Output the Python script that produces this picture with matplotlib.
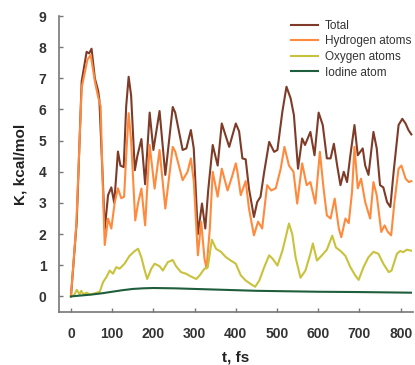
import numpy as np
import matplotlib
matplotlib.use("Agg")
import matplotlib.pyplot as plt

plt.rcParams['font.family'] = ['Liberation Sans', 'DejaVu Sans']

# kinetic energy traces (t in fs, K in kcal/mol)
t_total = [0, 14, 26, 38, 44, 50, 58, 66, 69, 78,
           82, 90, 98, 105, 110, 114, 120, 128, 134, 140,
           146, 155, 161, 171, 180, 191, 200, 215, 229, 247,
           253, 259, 271, 280, 291, 298, 308, 318, 326, 333,
           344, 356, 366, 384, 400, 408, 416, 424, 432, 444,
           452, 460, 469, 481, 493, 501, 513, 523, 533, 541,
           551, 561, 568, 581, 591, 601, 611, 621, 630, 638,
           646, 654, 662, 670, 678, 688, 696, 708, 714, 722,
           734, 742, 750, 758, 767, 775, 783, 795, 804, 812,
           819, 826]
k_total = [0, 2.4, 6.9, 7.85, 7.8, 7.95, 7.0, 6.6, 6.3, 3.5,
           2.15, 3.25, 3.5, 3.0, 3.9, 4.65, 4.2, 4.15, 6.1, 7.05,
           6.45, 4.05, 4.5, 5.05, 3.6, 5.9, 4.7, 5.95, 3.9, 6.08,
           5.9, 5.5, 4.7, 4.75, 5.34, 4.75, 2.0, 2.98, 2.18, 3.4,
           4.86, 4.2, 5.55, 4.8, 5.55, 5.3, 4.43, 4.4, 3.46, 2.55,
           3.03, 3.2, 4.0, 4.96, 4.64, 4.7, 5.93, 6.73, 6.36, 5.82,
           4.1, 5.07, 4.86, 5.28, 4.53, 5.9, 5.5, 4.43, 4.43, 4.9,
           4.2, 3.57, 4.0, 3.67, 4.53, 5.5, 4.53, 4.75, 4.2, 3.9,
           5.28, 4.75, 3.57, 3.5, 3.03, 2.87, 4.0, 5.5, 5.7, 5.55,
           5.34, 5.2]

t_hydrogen = [0, 13, 26, 40, 48, 58, 66, 72, 78, 82,
              90, 98, 106, 114, 122, 129, 134, 140, 146, 156,
              163, 171, 180, 191, 203, 215, 229, 247, 253, 271,
              283, 291, 298, 308, 316, 324, 329, 337, 344, 356,
              366, 380, 391, 400, 404, 412, 424, 432, 444, 454,
              464, 476, 486, 497, 509, 518, 529, 540, 549, 561,
              572, 581, 593, 604, 613, 621, 630, 640, 650, 656,
              666, 674, 682, 688, 696, 704, 714, 726, 734, 742,
              753, 761, 769, 777, 785, 795, 802, 812, 820, 826]
k_hydrogen = [0, 2.3, 6.7, 7.6, 7.75, 6.9, 6.4, 6.1, 3.2, 1.65,
              2.5, 2.18, 3.0, 3.47, 3.15, 3.2, 4.5, 5.88, 5.0, 2.44,
              3.0, 3.46, 2.28, 4.86, 3.46, 4.7, 2.82, 4.8, 4.65, 3.73,
              4.0, 4.43, 3.7, 1.32, 2.4, 1.21, 0.9, 2.18, 4.0, 3.2,
              4.1, 3.4, 3.85, 4.27, 4.0, 3.25, 3.7, 2.82, 1.96, 2.4,
              2.18, 3.57, 3.4, 3.47, 4.1, 4.8, 4.2, 4.0, 2.98, 4.27,
              3.57, 3.67, 2.98, 4.64, 3.46, 2.6, 2.5, 3.14, 2.18, 1.9,
              2.5, 2.35, 3.35, 4.8, 3.47, 3.78, 3.03, 2.5, 3.67, 3.25,
              2.07, 2.28, 2.07, 1.96, 3.03, 4.1, 4.2, 3.78, 3.67, 3.7]

t_oxygen = [0, 8, 14, 21, 25, 30, 38, 46, 58, 70,
            78, 86, 94, 102, 110, 118, 130, 142, 155, 163,
            171, 179, 185, 195, 203, 215, 223, 235, 247, 255,
            267, 279, 291, 304, 312, 324, 332, 342, 352, 364,
            376, 388, 400, 412, 424, 436, 447, 457, 469, 481,
            490, 501, 513, 521, 529, 537, 545, 557, 569, 581,
            587, 597, 609, 621, 634, 643, 654, 666, 678, 690,
            698, 710, 722, 734, 746, 758, 771, 778, 791, 799,
            806, 815, 825]
k_oxygen = [0, 0.05, 0.21, 0.07, 0.18, 0.07, 0.12, 0.06, 0.1, 0.15,
            0.46, 0.62, 0.83, 0.73, 0.94, 0.89, 1.05, 1.3, 1.46, 1.53,
            1.25, 0.83, 0.56, 0.89, 1.05, 0.97, 0.83, 1.1, 1.17, 0.97,
            0.78, 0.73, 0.64, 0.56, 0.67, 0.89, 0.94, 1.82, 1.53, 1.43,
            1.26, 1.15, 1.05, 0.68, 0.51, 0.4, 0.31, 0.51, 0.94, 1.32,
            1.2, 0.99, 1.46, 1.89, 2.34, 2.0, 1.26, 0.6, 0.83, 1.37,
            1.7, 1.15, 1.32, 1.5, 1.95, 1.57, 1.46, 1.3, 0.94, 0.67,
            0.53, 0.94, 1.26, 1.43, 1.37, 1.05, 0.78, 0.83, 1.37, 1.46,
            1.42, 1.5, 1.47]

t_iodine = [0, 25, 50, 75, 100, 125, 150, 175, 200, 250, 300, 350, 400, 450, 500, 600, 700, 825]
k_iodine = [0, 0.03, 0.06, 0.1, 0.15, 0.2, 0.24, 0.26, 0.27, 0.26, 0.24, 0.22, 0.2, 0.18, 0.17, 0.15, 0.14, 0.12]

labels = ['Total', 'Hydrogen atoms', 'Oxygen atoms', 'Iodine atom']
colors = ['#7e3c28', '#ff8a3d', '#c9c23c', '#1f5e3c']

fig = plt.figure(figsize=(4.15, 3.65), dpi=100)
ax = fig.add_axes([59/415, 53/365, 354/415, 296/365])

series = [(t_total, k_total), (t_hydrogen, k_hydrogen),
          (t_oxygen, k_oxygen), (t_iodine, k_iodine)]
for (t, k), lab, col in zip(series, labels, colors):
    ax.plot(t, k, color=col, lw=1.5, label=lab)

ax.set_xlim(-29, 830)
ax.set_ylim(-0.5, 9)
ax.set_xticks(np.arange(0, 801, 100))
ax.set_yticks(np.arange(0, 10, 1))

for side in ['top', 'right']:
    ax.spines[side].set_visible(False)
for side in ['left', 'bottom']:
    ax.spines[side].set_color('#777777')
    ax.spines[side].set_linewidth(1.2)

ax.tick_params(direction='in', length=3, width=1, color='#777777',
               labelsize=10, labelcolor='#333333')
ax.tick_params(axis='y', pad=9)
ax.tick_params(axis='x', pad=11)
for lbl in ax.get_xticklabels() + ax.get_yticklabels():
    lbl.set_fontweight('bold')

ax.set_xlabel('t, fs', fontsize=11, fontweight='bold', color='#222222', labelpad=7)
ax.set_ylabel('K, kcal/mol', fontsize=11, fontweight='bold', color='#222222', labelpad=8)

leg = ax.legend(loc='upper left', bbox_to_anchor=(285/415, 1 - 14/365),
                bbox_transform=fig.transFigure, frameon=False, fontsize=8.5,
                handlelength=2.3, handletextpad=0.6, labelspacing=0.3, borderpad=0)
for txt in leg.get_texts():
    txt.set_color('#333333')

fig.savefig('out.png', dpi=100)
